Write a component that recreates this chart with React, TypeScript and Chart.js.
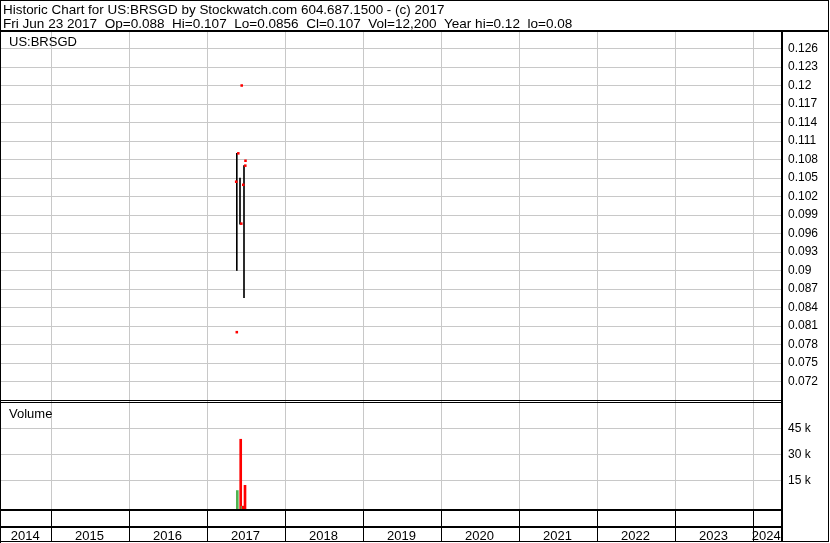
import React, { useEffect, useRef } from 'react';
import { Chart, registerables } from 'chart.js';

Chart.register(...registerables);

// ---------- text ----------
const HEADER_TITLE = 'Historic Chart for US:BRSGD by Stockwatch.com 604.687.1500 - (c) 2017';
const HEADER_QUOTE = 'Fri Jun 23 2017  Op=0.088  Hi=0.107  Lo=0.0856  Cl=0.107  Vol=12,200  Year hi=0.12  lo=0.08';
const SYMBOL_LABEL = 'US:BRSGD';
const VOLUME_LABEL = 'Volume';

// ---------- time axis (decimal years) ----------
const X_MIN = 2014.3526;
const X_MAX = 2024.3526;
const yearBoundaries = [2015, 2016, 2017, 2018, 2019, 2020, 2021, 2022, 2023, 2024];
const yearLabels = ['2014', '2015', '2016', '2017', '2018', '2019', '2020', '2021', '2022', '2023', '2024'];

// ---------- price: high-low bars ----------
const barDates = [2017.3821, 2017.4231, 2017.4744];
const barLows = [0.09, 0.0975, 0.0856];
const barHighs = [0.109, 0.105, 0.107];

// ---------- price: red open/close marks ----------
const markDates = [2017.4385, 2017.3949, 2017.4872, 2017.4846, 2017.368, 2017.459, 2017.4334, 2017.3757];
const markPrices = [0.12, 0.109, 0.1078, 0.107, 0.1044, 0.1039, 0.0976, 0.08];

// ---------- volume ----------
const volDates = [2017.3693, 2017.4129, 2017.4295, 2017.4449, 2017.468];
const volValues = [9200, 38800, 100, 200, 12200];
const volUp = [true, false, true, false, false];

// ---------- axes ----------
const priceTicks = [0.072, 0.075, 0.078, 0.081, 0.084, 0.087, 0.09, 0.093, 0.096, 0.099, 0.102, 0.105, 0.108, 0.111, 0.114, 0.117, 0.12, 0.123, 0.126];
const volumeTicks = [15000, 30000, 45000];
const PRICE_MIN = 0.068838;
const PRICE_MAX = 0.128676;
const VOL_MIN = -1442;
const VOL_MAX = 60865;

const FONT = '"Liberation Sans", Arial, sans-serif';
const GRID = 'rgb(200,200,200)';
const UP = 'rgb(80,178,80)';
const DOWN = '#ff0000';

const framePlugin = {
  id: 'stockwatchFrame',
  afterDraw(chart: any) {
    const ctx = chart.ctx as CanvasRenderingContext2D;
    const { left, right, top, bottom } = chart.chartArea;
    const xs = chart.scales.x;
    const W = chart.width;
    const H = chart.height;
    ctx.save();
    ctx.fillStyle = '#000';
    ctx.textBaseline = 'alphabetic';
    ctx.textAlign = 'left';
    ctx.font = '13.45px ' + FONT;
    ctx.fillText(HEADER_TITLE, 3, 14);
    ctx.font = '13.55px ' + FONT;
    ctx.fillText(HEADER_QUOTE, 3, 28);
    ctx.font = '13px ' + FONT;
    ctx.fillText(SYMBOL_LABEL, 9, 46);
    ctx.fillText(VOLUME_LABEL, 9, 418);

    // outer frame
    ctx.fillRect(0, 0, W - 1, 1);
    ctx.fillRect(0, 0, 1, H);
    ctx.fillRect(W - 2, 0, 1, H - 1);
    ctx.fillRect(0, H - 2, W - 1, 1);
    // header separator
    ctx.fillRect(0, top - 2, W - 1, 2);
    // right axis line
    ctx.fillRect(right, top, 2, H - 2 - top);
    // double line between price and volume panes
    const yPrice = chart.scales.y;
    const sep = yPrice.bottom;
    ctx.fillRect(left, sep - 1, right - left, 1);
    ctx.fillRect(left, sep + 1, right - left, 1);
    // bottom of volume pane
    ctx.fillRect(0, bottom, right + 2, 2);
    // row separator in time axis
    ctx.fillRect(0, bottom + 17, right + 2, 2);

    // year labels centred in each visible year span
    ctx.font = '13px ' + FONT;
    ctx.textAlign = 'center';
    for (let i = 0; i < yearLabels.length; i++) {
      const a = i === 0 ? left : xs.getPixelForValue(yearBoundaries[i - 1]);
      const b = i === yearBoundaries.length ? right : xs.getPixelForValue(yearBoundaries[i]);
      ctx.fillText(yearLabels[i], (a + b) / 2 - 1, H - 3);
    }
    ctx.restore();
  },
};

export default function App() {
  const ref = useRef<HTMLCanvasElement | null>(null);

  useEffect(() => {
    const canvas = ref.current;
    if (!canvas) return;

    const chart = new Chart(canvas, {
      type: 'bar',
      data: {
        datasets: [
          {
            type: 'scatter',
            label: 'Open/Close',
            data: markDates.map((x, i) => ({ x, y: markPrices[i] })),
            xAxisID: 'x',
            yAxisID: 'y',
            pointStyle: 'rect',
            pointRadius: 1.8,
            pointBorderWidth: 0,
            borderWidth: 0,
            backgroundColor: DOWN,
            borderColor: DOWN,
          } as any,
          {
            type: 'bar',
            label: 'High-Low',
            data: barDates.map((x, i) => ({ x, y: [barLows[i], barHighs[i]] })),
            xAxisID: 'x',
            yAxisID: 'y',
            backgroundColor: '#000',
            borderWidth: 0,
            barThickness: 1,
          } as any,
          {
            type: 'bar',
            label: 'Volume',
            data: volDates.map((x, i) => ({ x, y: volValues[i] })),
            xAxisID: 'x2',
            yAxisID: 'yv',
            base: VOL_MIN,
            backgroundColor: volUp.map((u) => (u ? UP : DOWN)),
            borderWidth: 0,
            barThickness: 2,
          } as any,
        ],
      },
      options: {
        responsive: false,
        animation: false,
        devicePixelRatio: 1,
        layout: { autoPadding: false, padding: { top: 32, left: 1, right: 0, bottom: 0 } },
        plugins: {
          legend: { display: false },
          tooltip: { enabled: false },
          title: { display: false },
        },
        scales: {
          x: {
            type: 'linear',
            position: 'bottom',
            min: X_MIN,
            max: X_MAX,
            offset: false,
            grid: { offset: false, color: GRID, lineWidth: 1, drawTicks: true, tickLength: 32, tickColor: '#000', tickWidth: 1 },
            border: { display: false },
            ticks: { display: false, autoSkip: false },
            afterBuildTicks: (s: any) => {
              s.ticks = yearBoundaries.map((v) => ({ value: v }));
            },
            afterFit: (s: any) => {
              s.height = 34;
            },
          },
          x2: {
            type: 'linear',
            display: false,
            min: X_MIN,
            max: X_MAX,
            offset: false,
          },
          y: {
            type: 'linear',
            position: 'right',
            stack: 'panes',
            stackWeight: 369,
            min: PRICE_MIN,
            max: PRICE_MAX,
            grid: { color: GRID, lineWidth: 1, drawTicks: false },
            border: { display: false },
            ticks: {
              autoSkip: false,
              padding: 7,
              color: '#000',
              font: { family: FONT, size: 12 },
              callback: (v: any) => String(v),
            },
            afterBuildTicks: (s: any) => {
              s.ticks = priceTicks.map((v) => ({ value: v }));
            },
            afterFit: (s: any) => {
              s.width = 49;
            },
          },
          yv: {
            type: 'linear',
            position: 'right',
            stack: 'panes',
            stackWeight: 108,
            min: VOL_MIN,
            max: VOL_MAX,
            grid: { color: GRID, lineWidth: 1, drawTicks: false },
            border: { display: false },
            ticks: {
              autoSkip: false,
              padding: 7,
              color: '#000',
              font: { family: FONT, size: 12 },
              callback: (v: any) => `${Number(v) / 1000} k`,
            },
            afterBuildTicks: (s: any) => {
              s.ticks = volumeTicks.map((v) => ({ value: v }));
            },
            afterFit: (s: any) => {
              s.width = 49;
            },
          },
        },
      } as any,
      plugins: [framePlugin],
    });

    return () => chart.destroy();
  }, []);

  return (
    <div style={{ position: 'fixed', left: 0, top: 0, width: 830, height: 543, background: '#fff' }}>
      <canvas ref={ref} width={830} height={543} style={{ display: 'block', width: 830, height: 543 }} />
    </div>
  );
}
